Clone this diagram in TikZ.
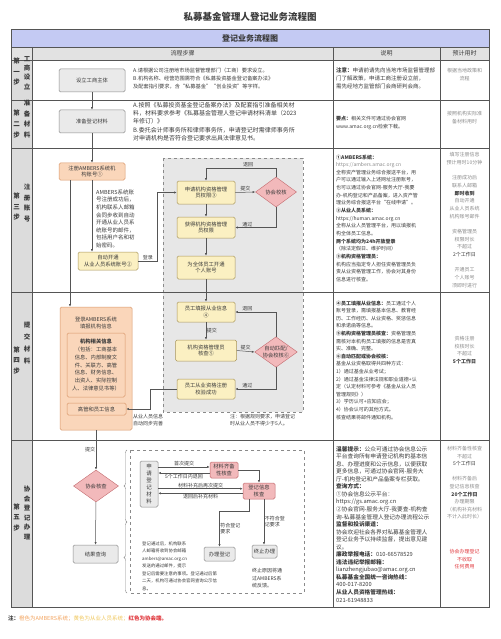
\documentclass[tikz,border=0pt]{standalone}
\usepackage{fontspec}
\setmainfont{Noto Sans CJK SC}
\usetikzlibrary{arrows.meta,shapes.geometric,decorations.pathreplacing}
\definecolor{lineg}{HTML}{555555}
\definecolor{txtg}{HTML}{3A3A3A}
\definecolor{softg}{HTML}{8A8A8A}
\definecolor{headblue}{HTML}{C4CAF3}
\definecolor{colg}{HTML}{E2E2E2}
\definecolor{stepg}{HTML}{DCDCDC}
\definecolor{regiong}{HTML}{E7E7E7}
\definecolor{boxg}{HTML}{EAEAEA}
\definecolor{ambfill}{HTML}{FAD6BA}
\definecolor{ambline}{HTML}{D9976A}
\definecolor{yelfill}{HTML}{FBF0C2}
\definecolor{yelline}{HTML}{A8955A}
\definecolor{redfill}{HTML}{F2B9BB}
\definecolor{redline}{HTML}{C26A6E}
\definecolor{redtxt}{HTML}{E0393E}
\definecolor{orgtxt}{HTML}{F2A35E}
\definecolor{yeltxt}{HTML}{EFC65A}
\tikzset{
  box/.style={draw, rounded corners=1.5pt, align=center, inner sep=0pt, line width=0.5pt, text=txtg, font=\fontsize{5.3}{6.6}\selectfont},
  greybox/.style={box, fill=boxg, draw=softg},
  ambbox/.style={box, fill=ambfill, draw=ambline},
  yelbox/.style={box, fill=yelfill, draw=yelline},
  redbox/.style={box, fill=redfill, draw=redline},
  check/.style={diamond, shape aspect=1.4, draw=redline, fill=redfill, inner sep=0pt, align=center, text=txtg, font=\fontsize{5.3}{6.6}\selectfont},
  arr/.style={draw=lineg, line width=0.5pt, -{Latex[length=2.6pt,width=2.2pt]}},
  lbl/.style={inner sep=0.6pt, text=txtg, font=\fontsize{5}{6}\selectfont},
  note/.style={anchor=north west, align=left, inner sep=0pt, text=txtg, font=\fontsize{5}{7.65}\selectfont},
  timenote/.style={anchor=north, align=center, inner sep=0pt, text=softg, font=\fontsize{5}{7.65}\selectfont},
  steplbl/.style={align=center, inner sep=0pt, text=txtg, font=\fontsize{6.5}{10.5}\selectfont\bfseries},
  headlbl/.style={text=txtg, font=\fontsize{6}{7}\selectfont},
}
\begin{document}
\begin{tikzpicture}[x=1pt,y=-1pt]
\useasboundingbox (0,0) rectangle (500,639);
\node[text=txtg, font=\fontsize{9.5}{11}\selectfont\bfseries] (title) at (250,17) {私募基金管理人登记业务流程图};

\fill[headblue] (11,30) rectangle (489,47);
\fill[colg] (11,47) rectangle (489,60);
\fill[stepg] (11,60) rectangle (32,607);
\node[text=txtg, font=\fontsize{8}{9}\selectfont\bfseries] (band) at (250,38.5) {登记业务流程图};
\draw[softg, dashed, fill=regiong] (163,158) rectangle (303,412);
\draw[softg, dashed] (130,450) rectangle (304,593);
\draw[lineg, line width=0.6pt] (11,47) -- (489,47) (11,60) -- (489,60) (11,100) -- (489,100)
  (11,148) -- (489,148) (11,292) -- (489,292) (11,440) -- (489,440);
\draw[lineg, line width=0.6pt] (32,47) -- (32,607) (333,47) -- (333,607) (440,47) -- (440,607);
\draw[lineg, line width=1pt] (11,30) rectangle (489,607);

\node[headlbl] (hflow) at (182.5,53.5) {流程步骤};
\node[headlbl] (hnote) at (386.5,53.5) {说明};
\node[headlbl] (htime) at (464.5,53.5) {预计用时};

\node[steplbl] (s1) at (16.5,72) {第\\一\\步};
\node[steplbl, font=\fontsize{6.5}{9.3}\selectfont\bfseries] (s1b) at (27,73) {工\\商\\设\\立};
\node[steplbl, font=\fontsize{6.5}{11}\selectfont\bfseries] (s2) at (16.5,124) {第\\二\\步};
\node[steplbl] (s2b) at (27,119) {准\\备\\材\\料};
\node[steplbl] (s3) at (16.5,207) {第\\三\\步};
\node[steplbl] (s3b) at (27,203) {注\\册\\账\\号};
\node[steplbl] (s4) at (16.5,360) {第\\四\\步};
\node[steplbl, font=\fontsize{6.5}{12}\selectfont\bfseries] (s4b) at (27,343) {提\\交\\材\\料};
\node[steplbl] (s5) at (16.5,517) {第\\五\\步};
\node[steplbl, font=\fontsize{6.5}{9.5}\selectfont\bfseries] (s5b) at (27,513) {协\\会\\登\\记\\办\\理};

% step 1 and 2
\node[greybox, minimum width=66pt, minimum height=23pt] (setup) at (92,80.5) {设立工商主体};
\node[note, font=\fontsize{5.2}{8}\selectfont] (setupnote) at (133,68) {A.请根据公司注册地市场监督管理部门（工商）要求设立。\\B.机构名称、经营范围需符合《私募投资基金登记备案办法》\\及配套指引要求，含“私募基金”“创业投资”等字样。};
\node[greybox, minimum width=66pt, minimum height=23pt] (prep) at (92,121.5) {准备登记材料};
\node[note, font=\fontsize{6}{8.3}\selectfont] (prepnote) at (133,102) {A.按照《私募投资基金登记备案办法》及配套指引准备相关材\\料，材料要求参考《私募基金管理人登记申请材料清单（2023\\年修订）》\\B.委托会计师事务所和律师事务所，申请登记时需律师事务所\\对申请机构是否符合登记要求出具法律意见书。};
\draw[arr] (setup) -- (prep);

% step 3
\node[ambbox, minimum width=66pt, minimum height=17pt] (amb1) at (92,171.5) {注册AMBERS系统机\\构账号①};
\node[yelbox, minimum width=60pt, minimum height=18pt] (hum2) at (108,261) {自动开通\\从业人员系统账号②};
\node[note, font=\fontsize{5.5}{7.6}\selectfont] (ambnote) at (96,189.5) {AMBERS系统账\\号注册成功后，\\机构联系人邮箱\\会同步收到自动\\开通从业人员系\\统账号的邮件，\\包括用户名和初\\始密码。};
\node[yelbox, minimum width=58pt, minimum height=23pt] (mgr3) at (206,192.5) {申请机构资格管理\\员权限③};
\node[yelbox, minimum width=58pt, minimum height=21pt] (mgrok) at (206,227.5) {获得机构资格管理\\员权限};
\node[yelbox, minimum width=58pt, minimum height=23pt] (open) at (206,267.5) {为全体员工开通\\个人账号};
\node[check, minimum width=41pt, minimum height=30pt] (assoc) at (276,192) {协会校核};
\draw[arr] (prep) -- (amb1);
\draw[arr] (amb1.south) -- (amb1.south |- hum2.north);
\draw[arr] (hum2.east) -- ++(19,0) node[lbl, above, midway] {登录} |- (mgr3.west);
\draw[arr] (mgr3) -- (mgrok);
\draw[arr] (mgrok) -- (open);
\draw[arr] (mgr3.east) -- node[lbl, above] {提交} (assoc.west);
\draw[arr] (assoc.north) -- ++(0,-9) -| node[lbl, above, pos=0.2] {退回} (mgr3.north);
\draw[arr] (assoc.south) |- node[lbl, above, pos=0.85] {通过} (mgrok.east);

% step 4
\node[ambbox, minimum width=72pt, minimum height=123pt] (ambers) at (96,368.5) {};
\node[text=txtg, align=center, inner sep=0pt, font=\fontsize{5.3}{7.5}\selectfont] (amberst) at (96,323) {登录AMBERS系统\\填报机构信息};
\node[ambbox, minimum width=58pt, minimum height=64pt, font=\fontsize{5.3}{7.7}\selectfont] (orginfo) at (96,365) {\textbf{机构相关信息}\\（包括：工商基本\\信息、内部制度文\\件、关联方、高管\\信息、财务信息、\\出资人、实际控制\\人、法律意见书等）};
\node[ambbox, minimum width=59pt, minimum height=12pt] (staff) at (96.5,409) {高管和员工信息};
\node[yelbox, minimum width=58pt, minimum height=20pt] (fill4) at (206,312) {员工填报从业信息\\④};
\node[yelbox, minimum width=61pt, minimum height=21pt] (check5) at (206,350.5) {机构资格管理员\\核查⑤};
\node[yelbox, minimum width=58pt, minimum height=20pt] (pass) at (206,389) {员工从业资格注册\\校验成功};
\node[check, minimum width=42pt, minimum height=30pt] (auto6) at (276,352) {自动匹配/\\协会校核⑥};
\node[note, font=\fontsize{5}{6.8}\selectfont] (passnote) at (230,414.5) {注：根据规则要求，申请登记\\时从业人员不得少于5人。};
\node[note, font=\fontsize{5}{6.8}\selectfont] (syncnote) at (133,414.5) {从业人员信息\\自动同步完善};
\draw[arr] ([xshift=-22pt]amb1.south) -- ([xshift=-22pt]amb1.south |- ambers.north);
\draw[arr] (open) -- (fill4);
\draw[arr] (fill4) -- node[lbl, right] {提交} (check5);
\draw[arr] (check5.east) -- node[lbl, above] {提交} (auto6.west);
\draw[arr] (auto6.north) |- node[lbl, above, pos=0.85] {退回} (fill4.east);
\draw[arr] (auto6.south) |- node[lbl, above, pos=0.85] {通过} (pass.east);
\draw[arr] (pass.west) -- ++(-27,0) |- (staff.east);

% step 5
\node[check, minimum width=45pt, minimum height=32pt] (review) at (96,486) {协会核查};
\node[greybox, minimum width=45pt, minimum height=18pt] (query) at (95.5,554) {结果查询};
\node[greybox, minimum width=18pt, minimum height=46pt, font=\fontsize{5.5}{7}\selectfont] (apply) at (149,484) {申\\请\\登\\记\\材\\料};
\node[redbox, minimum width=28pt, minimum height=16pt] (complete) at (224,470) {材料齐备\\性核查};
\node[redbox, minimum width=32pt, minimum height=16pt] (reginfo) at (259,491) {登记信息\\核查};
\node[greybox, minimum width=31pt, minimum height=14pt] (done) at (219.5,554) {办理登记};
\node[greybox, minimum width=25pt, minimum height=13pt] (stop) at (264.5,551.5) {终止办理};
\node[note, font=\fontsize{4.4}{7.5}\selectfont] (querynote) at (142,541.5) {登记通过后，机构联系\\人邮箱将收到协会邮箱\\ambers@amac.org.cn\\发送的通过邮件，提示\\登记后需要注意的事项。登记通过后第\\二天，机构可通过协会官网查询公示信\\息。};
\node[note] (stopnote) at (252,568) {终止原因将通\\过AMBERS系\\统反馈。};
\draw[arr] (ambers) -- node[lbl, left] {提交} (review);
\draw[arr] (review) -- (query);
\draw[softg, decorate, decoration={brace, amplitude=3pt}] (127,522) -- (127,450);
\draw[softg, decorate, decoration={brace, amplitude=3pt}] (127,593) -- (127,522);
\draw[arr] (apply.east |- complete.168) -- node[lbl, above] {首次提交} (complete.168);
\draw[arr] (complete.192) -- node[lbl, below] {5个工作日内退回} (apply.east |- complete.192);
\draw[arr] (apply.east |- reginfo.172) -- node[lbl, above] {材料补充后再次提交} (reginfo.172);
\draw[arr] (reginfo.188) -- node[lbl, below] {退回后补充材料} (apply.east |- reginfo.188);
\draw[arr] (complete.east) -| (reginfo.north);
\draw[arr] ([xshift=-10pt]reginfo.south) -- ++(0,12) -| node[lbl, right, pos=0.75, align=left] {符合登记\\要求} (done.north);
\draw[arr] ([xshift=5pt]reginfo.south) -- node[lbl, right, align=left] {不符合登\\记要求} ([xshift=5pt]reginfo.south |- stop.north);

% notes
\node[note, font=\fontsize{5.5}{8}\selectfont] (n1) at (336,68) {\textbf{注意：}申请前请先向当地市场监督管理部\\门了解政策，申请工商注册设立前，\\需先经地方监管部门会商研判会商。};
\node[note] (n2) at (336,116.5) {\textbf{要点：}相关文件可通过协会官网\\www.amac.org.cn检索下载。};
\node[note] (n3) at (336,154.5) {\textbf{①AMBERS系统：}\\\textcolor{softg}{https://ambers.amac.org.cn}\\全称资产管理业务综合报送平台，用\\户可以通过输入上述网址注册账号，\\也可以通过协会官网-服务大厅-我要\\办-机构登记和产品备案，进入资产管\\理业务综合报送平台“在线申请”。\\\textbf{②从业人员系统：}\\https://human.amac.org.cn\\全称从业人员管理平台，用以填报机\\构全体员工信息。\\\textbf{两个系统均为24h开放登录}\\（除法定假日、维护时间）\\\textbf{③机构资格管理员：}\\机构应当指定专人担任资格管理员负\\责从业资格管理工作，协会对其身份\\信息进行核查。};
\node[note, font=\fontsize{5}{7.6}\selectfont] (n4) at (336,300.5) {\textbf{④员工填报从业信息：}员工通过个人\\账号登录，需填报基本信息、教育经\\历、工作经历、从业资格、奖惩信息\\和承诺函等信息。\\\textbf{⑤机构资格管理员核查：}资格管理员\\需核对本机构员工填报的信息是否真\\实、准确、完整。\\\textbf{⑥自动匹配或协会校核：}\\基金从业资格取得共四种方式：\\1）通过基金从业考试；\\2）通过基金法律法规和职业道德+认\\定（认定材料可参考《基金从业人员\\管理规则》）\\3）学历认可+应知应会；\\4）协会认可的其他方式。\\核查结果将邮件通知机构。};
\node[note, font=\fontsize{5.7}{7.55}\selectfont] (n5) at (336,446) {\textbf{温馨提示：}公众可通过协会信息公示\\平台查询所有申请登记机构的基本信\\息、办理进度和公示信息，以便获取\\更多信息，可通过协会官网-服务大\\厅-机构登记和产品备案专栏获取。\\\textbf{查询方式：}\\①协会信息公示平台：\\https://gs.amac.org.cn\\②协会官网-服务大厅-我要查-机构查\\询-私募基金管理人登记办理流程公示\\\textbf{监督和投诉渠道：}\\协会欢迎社会各界对私募基金管理人\\登记业务予以持续监督，提出意见建\\议。\\\textbf{廉政举报电话：}010-66578529\\\textbf{违法违纪举报邮箱：}\\lianzhengjubao@amac.org.cn\\\textbf{私募基金全国统一咨询热线：}\\400-017-8200\\\textbf{从业人员资格管理热线：}\\021-61948833};

% times
\node[timenote, font=\fontsize{5}{8}\selectfont] (t1) at (464.5,68) {根据当地政策和\\流程};
\node[timenote, font=\fontsize{5}{8.5}\selectfont] (t2) at (464.5,111) {按照机构实际准\\备材料用时};
\node[timenote] (t3) at (464.5,152.5) {填写注册信息\\预计用时10分钟\\[7.65pt]注册成功后\\联系人邮箱\\\textcolor{txtg}{\textbf{即时收到}}\\自动开通\\从业人员系统\\机构账号邮件\\[7.65pt]资格管理员\\权限时长\\不超过\\\textcolor{txtg}{2个工作日}\\[7.65pt]开通员工\\个人账号\\须即时进行};
\node[timenote] (t4) at (464.5,336) {资格注册\\校核时长\\不超过\\\textcolor{txtg}{\textbf{5个工作日}}};
\node[timenote, font=\fontsize{5}{7.6}\selectfont] (t5) at (464.5,446) {材料齐备性核查\\不超过\\\textcolor{txtg}{5个工作日}\\[7.6pt]材料齐备后\\登记信息核查\\\textcolor{txtg}{\textbf{20个工作日}}\\办理期限\\（机构补充材料\\不计入此时长）};
\node[timenote, text=redtxt] (t5b) at (464.5,549) {协会办理登记\\不收取\\任何费用};

\node[anchor=west, inner sep=0pt, font=\fontsize{5.5}{6}\selectfont] (foot) at (8,619) {\textbf{\textcolor{txtg}{注：}}\textcolor{orgtxt}{橙色为AMBERS系统；}\textcolor{yeltxt}{黄色为从业人员系统；}\textcolor{redtxt}{\textbf{红色为协会端。}}};
\end{tikzpicture}
\end{document}
